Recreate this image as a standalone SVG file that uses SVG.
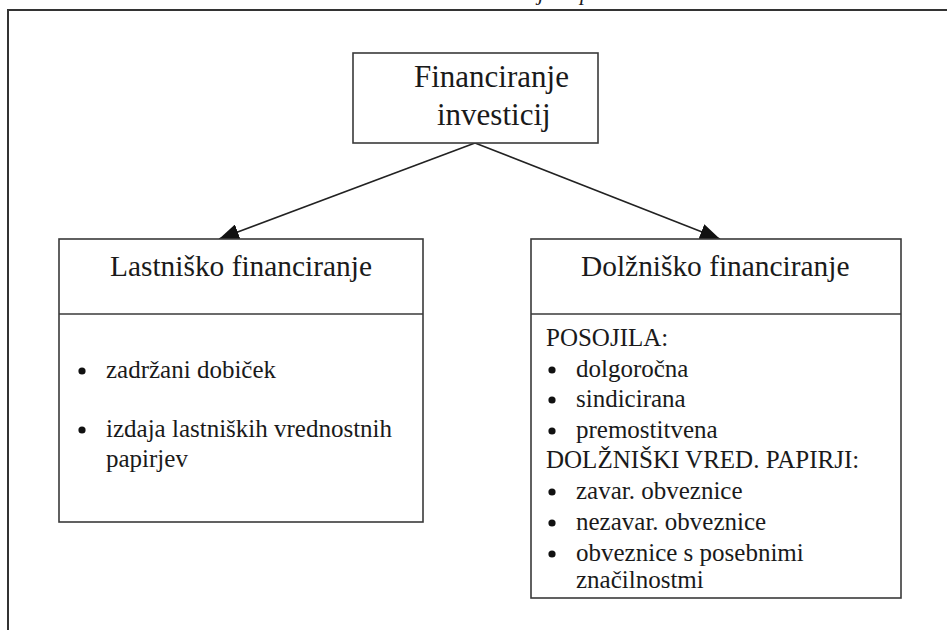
<svg xmlns="http://www.w3.org/2000/svg" width="947" height="630" viewBox="0 0 947 630">
<style>
  .box { fill: #ffffff; stroke: #3a3a3a; stroke-width: 1.6; }
  .div { stroke: #3a3a3a; stroke-width: 1.6; }
  .frame { fill: none; stroke: #333333; stroke-width: 2; }
  .conn { stroke: #222222; stroke-width: 1.6; fill: none; }
  text { font-family: "Liberation Serif", "Times New Roman", serif; fill: #1a1a1a; }
  .title { font-size: 31px; }
  .head { font-size: 29.4px; }
  .item { font-size: 25px; }
  .cap { font-size: 22px; font-style: italic; }
  .bullet { fill: #111111; }
</style>
<defs>
  <marker id="arrow" markerUnits="userSpaceOnUse" markerWidth="22" markerHeight="16" refX="20" refY="8" orient="auto">
    <path d="M0,0 L20,8 L0,16 Z" fill="#111111"/>
  </marker>
</defs>
<rect width="947" height="630" fill="#ffffff"/>
<path class="frame" d="M8,630 V10 H947"/>
<text class="cap" x="538" y="0">j</text>
<text class="cap" x="580" y="0">p</text>

<g id="connectors">
  <line class="conn" x1="475" y1="143" x2="219" y2="239" marker-end="url(#arrow)"/>
  <line class="conn" x1="475" y1="143" x2="720" y2="239" marker-end="url(#arrow)"/>
</g>

<g id="node-financiranje-investicij">
  <rect class="box" x="353" y="53" width="245" height="90"/>
  <text class="title" x="414" y="87">Financiranje</text>
  <text class="title" x="437" y="125">investicij</text>
</g>

<g id="node-lastnisko">
  <rect class="box" x="59" y="239" width="364" height="283"/>
  <line class="div" x1="59" y1="314" x2="423" y2="314"/>
  <text class="head" x="110" y="276">Lastniško financiranje</text>
  <circle class="bullet" cx="82" cy="371" r="3.6"/>
  <text class="item" x="106" y="378">zadržani dobiček</text>
  <circle class="bullet" cx="82" cy="430" r="3.6"/>
  <text class="item" x="106" y="437">izdaja lastniških vrednostnih</text>
  <text class="item" x="106" y="467">papirjev</text>
</g>

<g id="node-dolznisko">
  <rect class="box" x="531" y="239" width="370" height="359"/>
  <line class="div" x1="531" y1="314" x2="901" y2="314"/>
  <text class="head" x="581" y="276">Dolžniško financiranje</text>
  <text class="item" x="546" y="346">POSOJILA:</text>
  <circle class="bullet" cx="552" cy="370" r="3.6"/>
  <text class="item" x="576" y="377">dolgoročna</text>
  <circle class="bullet" cx="552" cy="400" r="3.6"/>
  <text class="item" x="576" y="407">sindicirana</text>
  <circle class="bullet" cx="552" cy="431" r="3.6"/>
  <text class="item" x="576" y="438">premostitvena</text>
  <text class="item" x="546" y="468">DOLŽNIŠKI VRED. PAPIRJI:</text>
  <circle class="bullet" cx="552" cy="492" r="3.6"/>
  <text class="item" x="576" y="499">zavar. obveznice</text>
  <circle class="bullet" cx="552" cy="523" r="3.6"/>
  <text class="item" x="576" y="530">nezavar. obveznice</text>
  <circle class="bullet" cx="552" cy="554" r="3.6"/>
  <text class="item" x="576" y="561">obveznice s posebnimi</text>
  <text class="item" x="576" y="588">značilnostmi</text>
</g>
</svg>
